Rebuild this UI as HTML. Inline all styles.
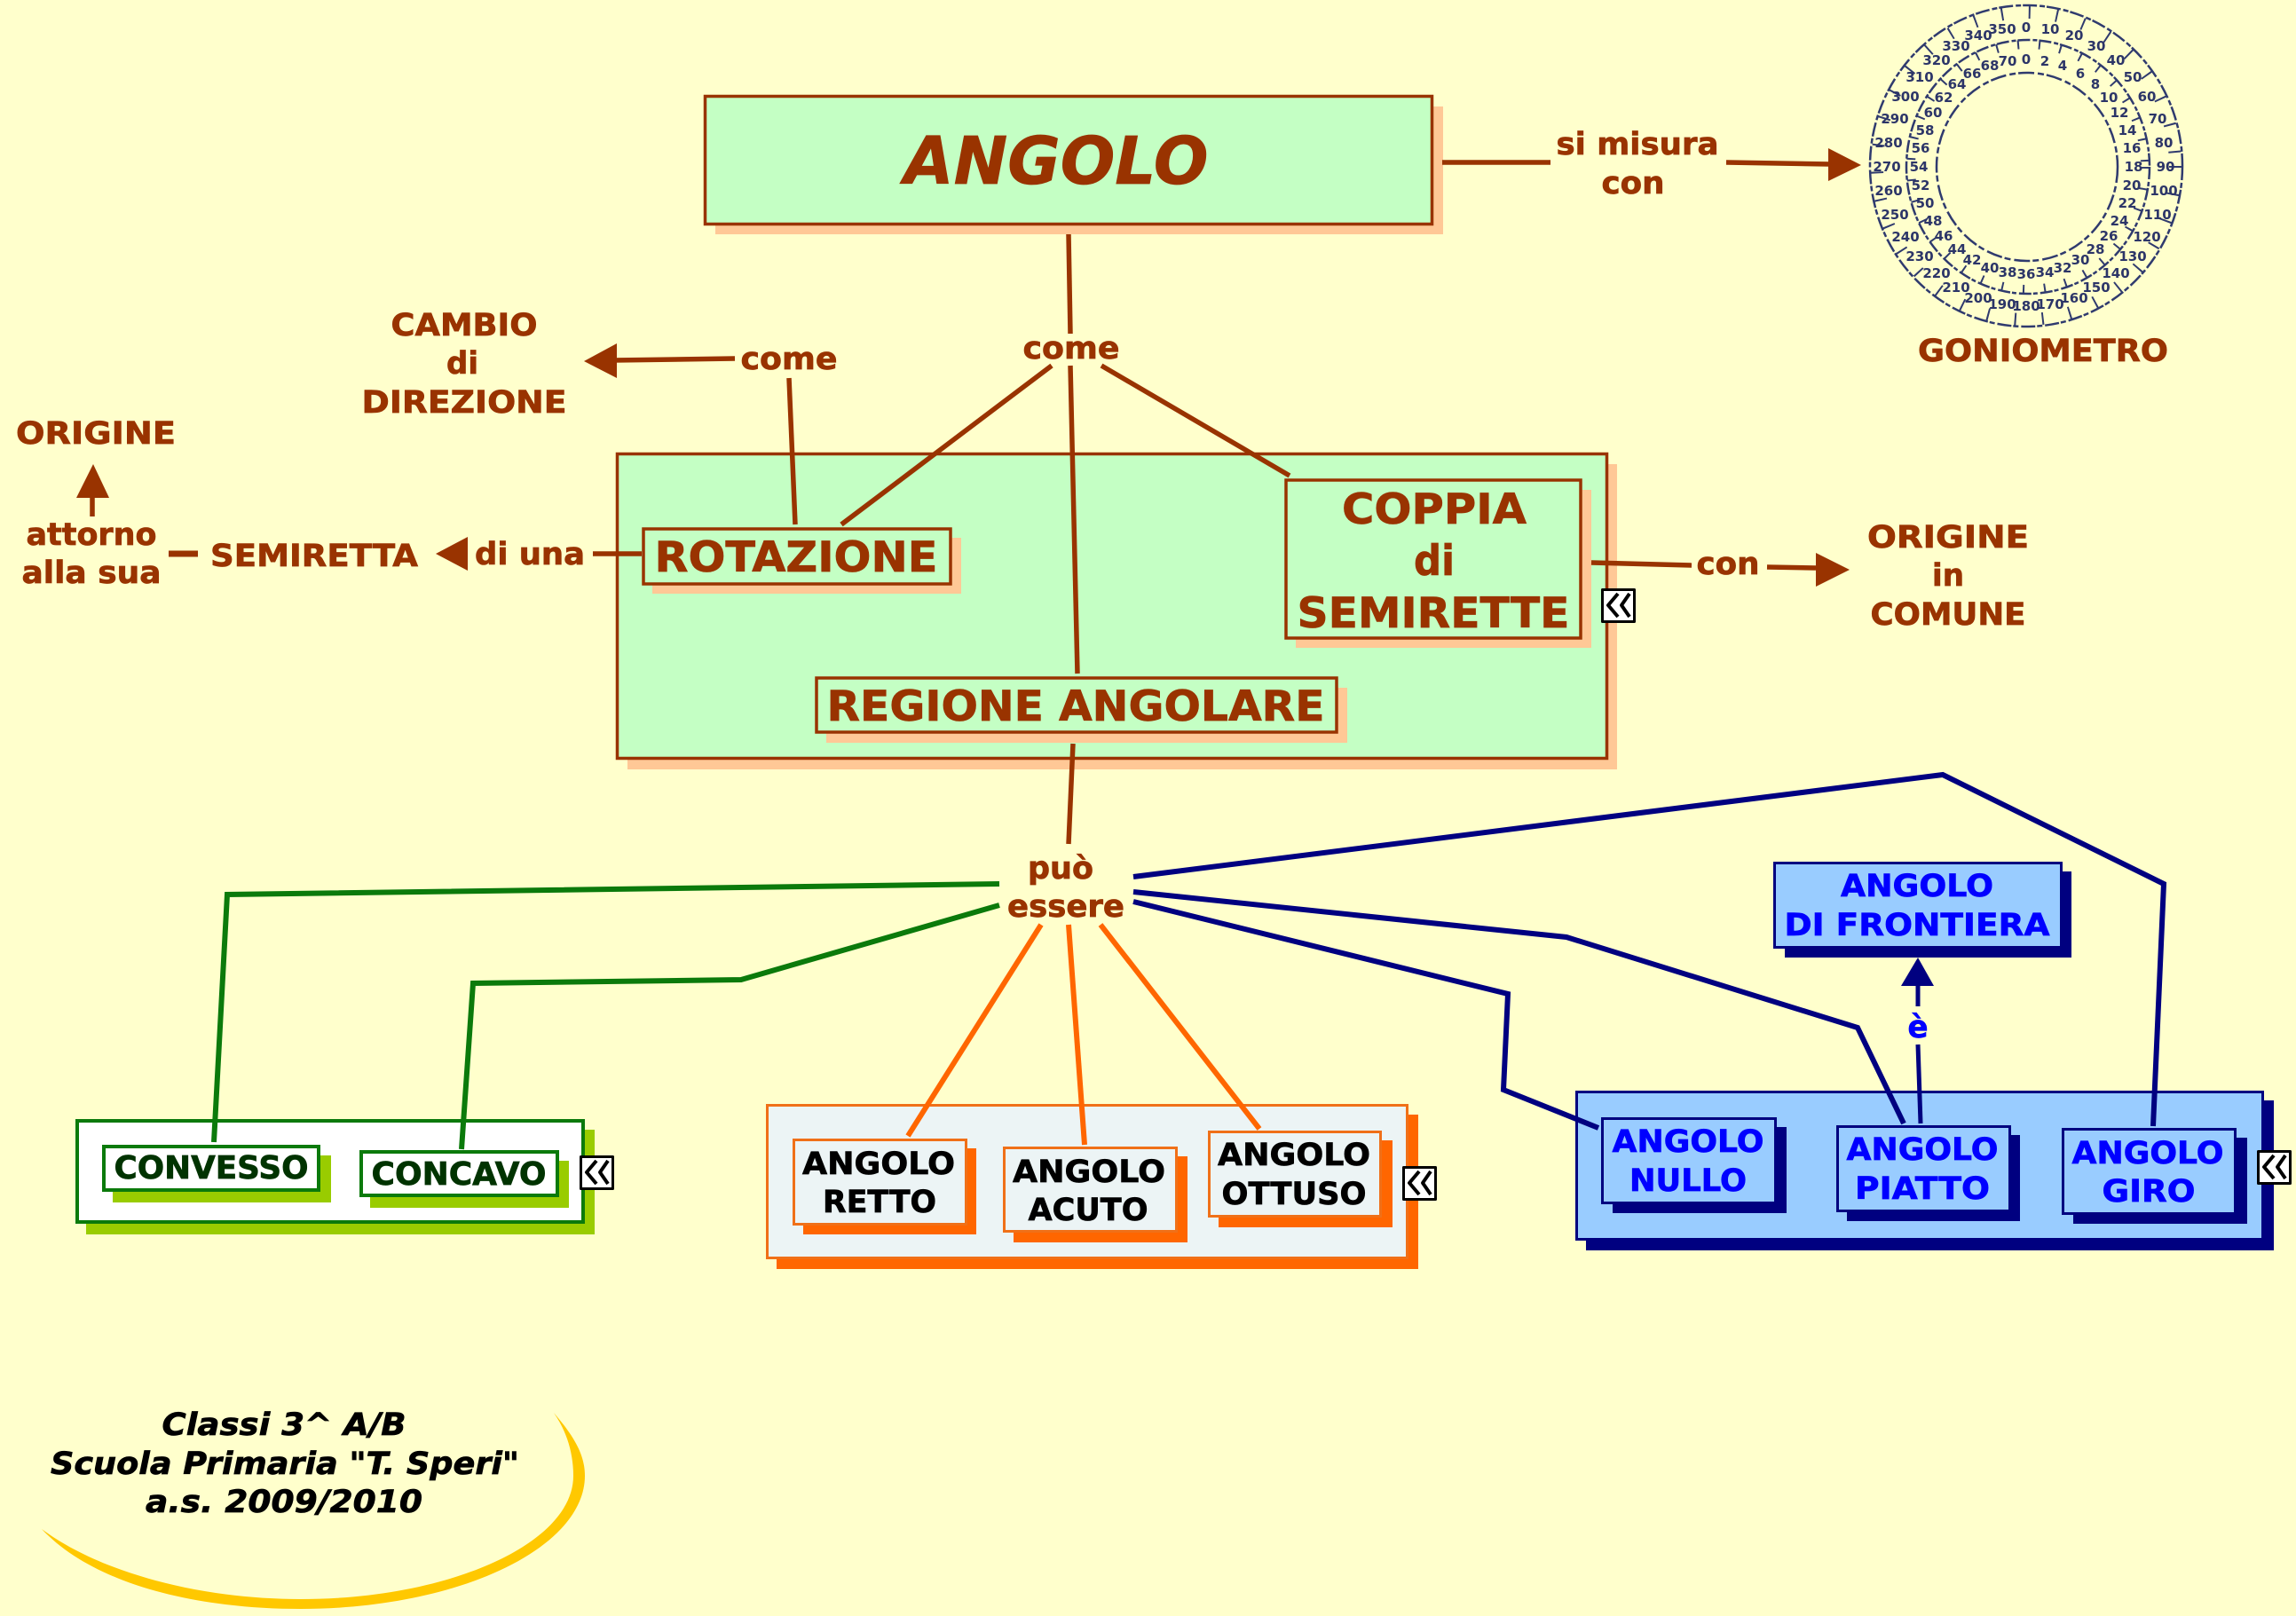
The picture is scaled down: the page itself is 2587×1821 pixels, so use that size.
<!DOCTYPE html>
<html lang="it"><head><meta charset="utf-8"><title>ANGOLO</title>
<style>
html,body{margin:0;padding:0;background:#FFFFCC;width:2587px;height:1821px;overflow:hidden}
svg{display:block}
text{font-family:"DejaVu Sans","Liberation Sans",sans-serif;font-weight:bold;text-anchor:middle;stroke-width:.7px}
.b{fill:#993300;stroke:#993300;font-size:35px}
.g{fill:#003300;stroke:#003300;font-size:36px}
.k{fill:#000;stroke:#000;font-size:35px}
.u{fill:#0000FF;stroke:#0000FF;font-size:35px}
.i{fill:#000;stroke:#000;font-size:35px;font-style:italic}
.n text{fill:#2C3568;stroke:none;font-size:15px;font-weight:bold}
</style></head><body>
<svg xmlns="http://www.w3.org/2000/svg" width="2587" height="1821" viewBox="0 0 2587 1821">
<rect width="2587" height="1821" fill="#FFFFCC"/>

<!-- crescent -->
<path d="M624,1592 C648,1620 659,1640 659,1663 C659,1745 515,1813 339,1813 C220,1813 105,1785 47,1723 C110,1770 220,1802 339,1802 C505,1802 646,1740 646,1663 C646,1640 640,1615 624,1592 Z" fill="#FFC800"/>

<!-- goniometer -->
<g fill="none" stroke="#2F3A6E">
<ellipse cx="2283" cy="187" rx="176" ry="181" stroke-width="2.5" stroke-dasharray="16 3 6 2"/>
<ellipse cx="2285" cy="188" rx="137" ry="143" stroke-width="2.5" stroke-dasharray="14 3 5 2"/>
<ellipse cx="2284" cy="188" rx="102" ry="106" stroke-width="2.5" stroke-dasharray="18 4 7 3"/>
<ellipse cx="2283" cy="187" rx="168" ry="173" stroke-width="14" stroke-dasharray="2 29"/>
<ellipse cx="2285" cy="188" rx="132" ry="138" stroke-width="10" stroke-dasharray="2 22"/>
</g>
<g class="n">
<text x="2283" y="36">0</text><text x="2310" y="38">10</text><text x="2337" y="45">20</text><text x="2362" y="57">30</text><text x="2384" y="73">40</text><text x="2403" y="92">50</text><text x="2419" y="114">60</text><text x="2431" y="139">70</text><text x="2438" y="166">80</text><text x="2440" y="193">90</text><text x="2438" y="220">100</text><text x="2431" y="247">110</text><text x="2419" y="272">120</text><text x="2403" y="294">130</text><text x="2384" y="313">140</text><text x="2362" y="329">150</text><text x="2337" y="341">160</text><text x="2310" y="348">170</text><text x="2283" y="350">180</text><text x="2256" y="348">190</text><text x="2229" y="341">200</text><text x="2204" y="329">210</text><text x="2182" y="313">220</text><text x="2163" y="294">230</text><text x="2147" y="272">240</text><text x="2135" y="247">250</text><text x="2128" y="220">260</text><text x="2126" y="193">270</text><text x="2128" y="166">280</text><text x="2135" y="139">290</text><text x="2147" y="114">300</text><text x="2163" y="92">310</text><text x="2182" y="73">320</text><text x="2204" y="57">330</text><text x="2229" y="45">340</text><text x="2256" y="38">350</text>
<text x="2283" y="72">0</text><text x="2304" y="74">2</text><text x="2324" y="79">4</text><text x="2344" y="88">6</text><text x="2361" y="100">8</text><text x="2376" y="115">10</text><text x="2388" y="132">12</text><text x="2397" y="152">14</text><text x="2402" y="172">16</text><text x="2404" y="193">18</text><text x="2402" y="214">20</text><text x="2397" y="234">22</text><text x="2388" y="254">24</text><text x="2376" y="271">26</text><text x="2361" y="286">28</text><text x="2344" y="298">30</text><text x="2324" y="307">32</text><text x="2304" y="312">34</text><text x="2283" y="314">36</text><text x="2262" y="312">38</text><text x="2242" y="307">40</text><text x="2222" y="298">42</text><text x="2205" y="286">44</text><text x="2190" y="271">46</text><text x="2178" y="254">48</text><text x="2169" y="234">50</text><text x="2164" y="214">52</text><text x="2162" y="193">54</text><text x="2164" y="172">56</text><text x="2169" y="152">58</text><text x="2178" y="132">60</text><text x="2190" y="115">62</text><text x="2205" y="100">64</text><text x="2222" y="88">66</text><text x="2242" y="79">68</text><text x="2262" y="74">70</text>
</g>

<!-- ANGOLO box -->
<rect x="806" y="120" width="820" height="144" fill="#FFC896"/>
<rect x="794.5" y="108.5" width="819" height="144" fill="#C4FFC4" stroke="#993300" stroke-width="3.5"/>

<!-- region -->
<rect x="707" y="523" width="1115" height="344" fill="#FFC896"/>
<rect x="695.5" y="511.5" width="1115" height="343" fill="#C4FFC4" stroke="#993300" stroke-width="3.5"/>
<rect x="735" y="606" width="348" height="63" fill="#FFC896"/>
<rect x="725" y="596" width="346" height="62" fill="#C4FFC4" stroke="#993300" stroke-width="3.5"/>
<rect x="1460" y="552" width="333" height="178" fill="#FFC896"/>
<rect x="1449" y="541" width="332" height="178" fill="#C4FFC4" stroke="#993300" stroke-width="3.5"/>
<rect x="931" y="775" width="587" height="62" fill="#FFC896"/>
<rect x="920" y="764" width="586" height="61" fill="#C4FFC4" stroke="#993300" stroke-width="3.5"/>

<!-- green group -->
<rect x="97" y="1273" width="573" height="118" fill="#99CC00"/>
<rect x="87" y="1263" width="570" height="114" fill="#FFF" stroke="#0B7A0B" stroke-width="4"/>
<rect x="127" y="1302" width="246" height="53" fill="#99CC00"/>
<rect x="117" y="1292" width="242" height="49" fill="#FFF" stroke="#0B7A0B" stroke-width="4"/>
<rect x="417" y="1308" width="224" height="53" fill="#99CC00"/>
<rect x="407" y="1298" width="221" height="49" fill="#FFF" stroke="#0B7A0B" stroke-width="4"/>

<!-- orange group -->
<rect x="875" y="1256" width="723" height="174" fill="#FF6600"/>
<rect x="864.5" y="1245.5" width="721" height="172" fill="#ECF4F5" stroke="#F07018" stroke-width="3"/>
<rect x="905" y="1294" width="195" height="97" fill="#FF6600"/>
<rect x="894.5" y="1284.5" width="194" height="95" fill="#ECF4F5" stroke="#F07018" stroke-width="3"/>
<rect x="1142" y="1303" width="196" height="97" fill="#FF6600"/>
<rect x="1131.5" y="1293.5" width="194" height="94" fill="#ECF4F5" stroke="#F07018" stroke-width="3"/>
<rect x="1373" y="1285" width="196" height="98" fill="#FF6600"/>
<rect x="1362.5" y="1275.5" width="193" height="95" fill="#ECF4F5" stroke="#F07018" stroke-width="3"/>

<!-- blue -->
<rect x="2011" y="982" width="323" height="97" fill="#000080"/>
<rect x="1999.5" y="972.5" width="323" height="95" fill="#99CCFF" stroke="#000080" stroke-width="3"/>
<rect x="1787" y="1240" width="775" height="169" fill="#000080"/>
<rect x="1776.5" y="1230.5" width="773" height="166" fill="#99CCFF" stroke="#000080" stroke-width="3"/>
<rect x="1817" y="1270" width="196" height="97" fill="#000080"/>
<rect x="1805.5" y="1260.5" width="195" height="95" fill="#99CCFF" stroke="#000080" stroke-width="3"/>
<rect x="2081" y="1279" width="195" height="97" fill="#000080"/>
<rect x="2070.5" y="1269.5" width="194" height="95" fill="#99CCFF" stroke="#000080" stroke-width="3"/>
<rect x="2336" y="1282" width="196" height="97" fill="#000080"/>
<rect x="2324.5" y="1272.5" width="194" height="95" fill="#99CCFF" stroke="#000080" stroke-width="3"/>

<!-- brown connectors -->
<g fill="none" stroke="#993300" stroke-width="5.5">
<path d="M1204,264 L1206,376"/>
<path d="M1206,412 L1214,759"/>
<path d="M1185,412 L948,591"/>
<path d="M1241,412 L1453,536"/>
<path d="M889,426 L896,591"/>
<path d="M828,404 L690,406"/>
<path d="M668,624 L723,624"/>
<path d="M190,624 L223,624" stroke-width="7"/>
<path d="M104,582 L104,555"/>
<path d="M1625,183 L1747,183"/>
<path d="M1945,183 L2062,185"/>
<path d="M1793,634 L1906,637"/>
<path d="M1991,639 L2046,640"/>
<path d="M1209,838 L1204,951"/>
</g>
<g fill="#993300">
<polygon points="658,407 695,387 695,426"/>
<polygon points="491,624 527,605 527,643"/>
<polygon points="105,523 86,561 123,561"/>
<polygon points="2097,186 2060,167 2060,204"/>
<polygon points="2084,642 2046,623 2046,661"/>
</g>

<!-- navy connectors -->
<g fill="none" stroke="#000080" stroke-width="6">
<path d="M1277,988 L2189,873 L2438,996 L2426,1269"/>
<path d="M1277,1005 L1765,1056 L2093,1158 L2145,1266"/>
<path d="M1277,1016 L1699,1120 L1694,1228 L1801,1271"/>
<path d="M2164,1266 L2161,1177" stroke-width="5"/>
<path d="M2161,1134 L2161,1108" stroke-width="5"/>
</g>
<polygon points="2161,1079 2142,1111 2179,1111" fill="#000080"/>

<!-- green connectors -->
<g fill="none" stroke="#0B7A0B" stroke-width="6">
<path d="M1126,996 L256,1008 L241,1287"/>
<path d="M1126,1020 L835,1104 L533,1108 L520,1295"/>
</g>

<!-- orange connectors -->
<g fill="none" stroke="#FF6600" stroke-width="6">
<path d="M1173,1042 L1023,1280"/>
<path d="M1204,1042 L1222,1290"/>
<path d="M1240,1042 L1419,1272"/>
</g>

<!-- chevron icons -->
<g fill="none" stroke-linejoin="round">
<rect x="1805.5" y="664.5" width="36" height="36" fill="#FFF" stroke="#000" stroke-width="3"/>
<path d="M1823,669 L1812,682 L1823,695 M1836,669 L1827,682 L1836,695" stroke="#000" stroke-width="4"/>
<rect x="654.5" y="1303.5" width="36" height="36" fill="#FFF" stroke="#000" stroke-width="3"/>
<path d="M672,1308 L661,1321 L672,1334 M685,1308 L676,1321 L685,1334" stroke="#000" stroke-width="4"/>
<rect x="1581.5" y="1315.5" width="36" height="36" fill="#FFF" stroke="#000" stroke-width="3"/>
<path d="M1599,1320 L1588,1333 L1599,1346 M1612,1320 L1603,1333 L1612,1346" stroke="#000" stroke-width="4"/>
<rect x="2544.5" y="1297.5" width="36" height="36" fill="#FFF" stroke="#000" stroke-width="3"/>
<path d="M2562,1302 L2551,1315 L2562,1328 M2575,1302 L2566,1315 L2575,1328" stroke="#000" stroke-width="4"/>
</g>

<!-- labels -->
<text class="b" x="1190" y="207" style="font-size:74px;font-style:italic" textLength="343" lengthAdjust="spacingAndGlyphs">ANGOLO</text>
<text class="b" x="523" y="378" textLength="165" lengthAdjust="spacingAndGlyphs">CAMBIO</text>
<text class="b" x="521" y="421" textLength="36" lengthAdjust="spacingAndGlyphs">di</text>
<text class="b" x="523" y="465" textLength="231" lengthAdjust="spacingAndGlyphs">DIREZIONE</text>
<text class="b" x="1207" y="404" textLength="109" lengthAdjust="spacingAndGlyphs">come</text>
<text class="b" x="889" y="416" textLength="109" lengthAdjust="spacingAndGlyphs">come</text>
<text class="b" x="108" y="500" textLength="180" lengthAdjust="spacingAndGlyphs">ORIGINE</text>
<text class="b" x="103" y="614" textLength="147" lengthAdjust="spacingAndGlyphs">attorno</text>
<text class="b" x="103" y="657" textLength="157" lengthAdjust="spacingAndGlyphs">alla sua</text>
<text class="b" x="354" y="638" textLength="234" lengthAdjust="spacingAndGlyphs">SEMIRETTA</text>
<text class="b" x="597" y="636" textLength="124" lengthAdjust="spacingAndGlyphs">di una</text>
<text class="b" x="897" y="644" style="font-size:47px" textLength="319" lengthAdjust="spacingAndGlyphs">ROTAZIONE</text>
<text class="b" x="1616" y="590" style="font-size:47px" textLength="208" lengthAdjust="spacingAndGlyphs">COPPIA</text>
<text class="b" x="1616" y="648" style="font-size:47px" textLength="46" lengthAdjust="spacingAndGlyphs">di</text>
<text class="b" x="1615" y="707" style="font-size:47px" textLength="307" lengthAdjust="spacingAndGlyphs">SEMIRETTE</text>
<text class="b" x="1212" y="812" style="font-size:47px" textLength="561" lengthAdjust="spacingAndGlyphs">REGIONE ANGOLARE</text>
<text class="b" x="1845" y="174" textLength="183" lengthAdjust="spacingAndGlyphs">si misura</text>
<text class="b" x="1840" y="218" textLength="71" lengthAdjust="spacingAndGlyphs">con</text>
<text class="b" x="2302" y="407" textLength="282" lengthAdjust="spacingAndGlyphs">GONIOMETRO</text>
<text class="b" x="1947" y="647" textLength="71" lengthAdjust="spacingAndGlyphs">con</text>
<text class="b" x="2195" y="617" textLength="182" lengthAdjust="spacingAndGlyphs">ORIGINE</text>
<text class="b" x="2195" y="660" textLength="36" lengthAdjust="spacingAndGlyphs">in</text>
<text class="b" x="2195" y="704" textLength="175" lengthAdjust="spacingAndGlyphs">COMUNE</text>
<text class="b" x="1195" y="990" textLength="74" lengthAdjust="spacingAndGlyphs">può</text>
<text class="b" x="1201" y="1033" textLength="132" lengthAdjust="spacingAndGlyphs">essere</text>

<text class="g" x="238" y="1328" textLength="219" lengthAdjust="spacingAndGlyphs">CONVESSO</text>
<text class="g" x="517" y="1335" textLength="197" lengthAdjust="spacingAndGlyphs">CONCAVO</text>

<text class="k" x="990" y="1323" textLength="172" lengthAdjust="spacingAndGlyphs">ANGOLO</text>
<text class="k" x="991" y="1366" textLength="128" lengthAdjust="spacingAndGlyphs">RETTO</text>
<text class="k" x="1227" y="1332" textLength="172" lengthAdjust="spacingAndGlyphs">ANGOLO</text>
<text class="k" x="1226" y="1375" textLength="135" lengthAdjust="spacingAndGlyphs">ACUTO</text>
<text class="k" x="1458" y="1313" textLength="172" lengthAdjust="spacingAndGlyphs">ANGOLO</text>
<text class="k" x="1458" y="1357" textLength="163" lengthAdjust="spacingAndGlyphs">OTTUSO</text>

<text class="u" x="2160" y="1010" textLength="172" lengthAdjust="spacingAndGlyphs">ANGOLO</text>
<text class="u" x="2160" y="1054" textLength="299" lengthAdjust="spacingAndGlyphs">DI FRONTIERA</text>
<text class="u" x="1902" y="1298" textLength="171" lengthAdjust="spacingAndGlyphs">ANGOLO</text>
<text class="u" x="1902" y="1342" textLength="132" lengthAdjust="spacingAndGlyphs">NULLO</text>
<text class="u" x="2166" y="1307" textLength="171" lengthAdjust="spacingAndGlyphs">ANGOLO</text>
<text class="u" x="2166" y="1351" textLength="152" lengthAdjust="spacingAndGlyphs">PIATTO</text>
<text class="u" x="2420" y="1311" textLength="171" lengthAdjust="spacingAndGlyphs">ANGOLO</text>
<text class="u" x="2421" y="1354" textLength="105" lengthAdjust="spacingAndGlyphs">GIRO</text>
<text class="u" x="2161" y="1169" textLength="23" lengthAdjust="spacingAndGlyphs">è</text>

<text class="i" x="320" y="1617" textLength="275" lengthAdjust="spacingAndGlyphs">Classi 3^ A/B</text>
<text class="i" x="321" y="1661" textLength="528" lengthAdjust="spacingAndGlyphs">Scuola Primaria "T. Speri"</text>
<text class="i" x="320" y="1704" textLength="312" lengthAdjust="spacingAndGlyphs">a.s. 2009/2010</text>
</svg>
</body></html>
